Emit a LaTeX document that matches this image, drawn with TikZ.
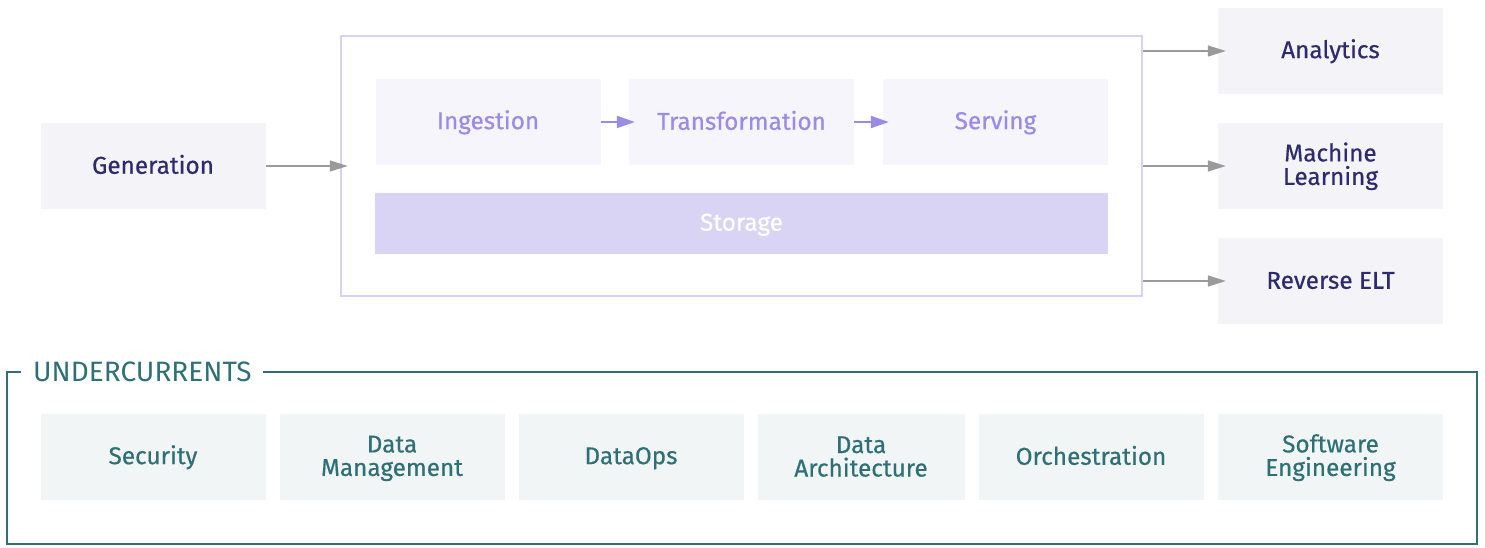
\documentclass[tikz,border=0pt]{standalone}
\usepackage{fontspec}
\setmainfont{Fira Sans}
\newfontfamily\medfont{Fira Sans}[FakeBold=0.5]
\usetikzlibrary{arrows.meta}
\newcommand\mystrut{\rule[-4pt]{0pt}{23.5pt}}
\definecolor{boxgray}{HTML}{F3F3F8}
\definecolor{darkpurple}{HTML}{2E2A6E}
\definecolor{lav}{HTML}{D6D1F6}
\definecolor{inbox}{HTML}{F6F5FC}
\definecolor{intext}{HTML}{9B8AE6}
\definecolor{storfill}{HTML}{DAD4F4}
\definecolor{teal}{HTML}{2E7075}
\definecolor{tealfill}{HTML}{F1F5F6}
\definecolor{arrgray}{HTML}{9A9A9A}
\tikzset{
  x=1pt, y=-1pt,
  lbl/.style={inner sep=0pt, align=center, font=\medfont\fontsize{24.3}{23.5}\selectfont},
  outbox/.style={lbl, fill=boxgray, text=darkpurple, minimum width=225pt, minimum height=86pt},
  stagebox/.style={lbl, fill=inbox, text=intext, minimum width=225pt, minimum height=86pt},
  underbox/.style={lbl, fill=tealfill, text=teal, minimum height=86pt},
  grayarrow/.style={draw=arrgray, line width=1.5pt, -{Triangle[length=18pt,width=11pt]}},
  purplearrow/.style={draw=intext, line width=2pt, -{Triangle[length=18pt,width=12pt]}},
}
\begin{document}
\begin{tikzpicture}
\useasboundingbox (0,0) rectangle (1485,548);
% big lifecycle frame
\node[draw=lav, line width=2.5pt, minimum width=801pt, minimum height=260pt, inner sep=0pt] (frame) at (741.5,166) {};
\node[outbox] (gen) at (153,166) {\mystrut Generation};
\node[stagebox] (ing) at (488,122) {\mystrut Ingestion};
\node[stagebox] (tra) at (741.5,122) {\mystrut Transformation};
\node[stagebox] (ser) at (995.5,122) {\mystrut Serving};
\node[lbl, fill=storfill, text=white, minimum width=733pt, minimum height=61pt] (sto) at (741.5,223.5) {\mystrut Storage};
\node[outbox] (ana) at (1330.5,51) {\mystrut Analytics};
\node[outbox] (ml) at (1330.5,166) {\mystrut Machine\\\mystrut Learning};
\node[outbox] (elt) at (1330.5,281) {\mystrut Reverse ELT};
% arrows
\draw[grayarrow, shorten >=-8pt] (gen.east) -- (frame.west |- gen);
\draw[purplearrow, shorten >=-6pt] (ing.east) -- (tra.west);
\draw[purplearrow, shorten >=-6pt] (tra.east) -- (ser.west);
\draw[grayarrow, shorten >=-8pt] (frame.east |- ana) -- (ana.west);
\draw[grayarrow, shorten >=-8pt] (frame.east |- ml) -- (ml.west);
\draw[grayarrow, shorten >=-8pt] (frame.east |- elt) -- (elt.west);
% undercurrents
\node[text=teal, anchor=west, inner sep=0pt, font=\fontsize{28}{28}\selectfont] (uc) at (33,372) {\rule[-5pt]{0pt}{28pt}UNDERCURRENTS};
\coordinate (ul) at (7,372);
\coordinate (ur) at (1477,372);
\coordinate (ll) at (7,544);
\coordinate (lr) at (1477,544);
\coordinate (g1) at (21,372);
\coordinate (g2) at (263,372);
\draw[teal, line width=1.3pt] (g1) -- (ul) -- (ll) -- (lr) -- (ur) -- (g2);
\node[underbox, minimum width=225pt] (sec) at (153,457) {\mystrut Security};
\node[underbox, minimum width=225pt] (dm) at (392,457) {\mystrut Data\\\mystrut Management};
\node[underbox, minimum width=225pt] (dops) at (631,457) {\mystrut DataOps};
\node[underbox, minimum width=207pt] (da) at (861,457) {\mystrut Data\\\mystrut Architecture};
\node[underbox, minimum width=225pt] (orc) at (1091,457) {\mystrut Orchestration};
\node[underbox, minimum width=225pt] (se) at (1330.5,457) {\mystrut Software\\\mystrut Engineering};
\end{tikzpicture}
\end{document}
